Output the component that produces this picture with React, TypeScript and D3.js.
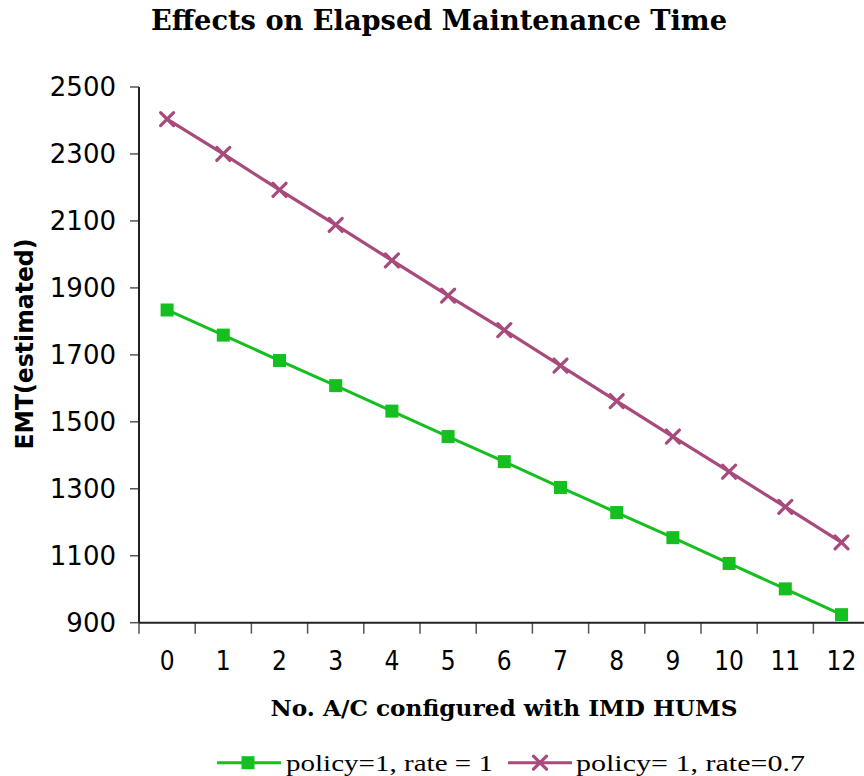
import React from "react";
import * as d3 from "d3";

const categories: number[] = [0, 1, 2, 3, 4, 5, 6, 7, 8, 9, 10, 11, 12];
const rateOne: number[] = [1834, 1759, 1683, 1608, 1532, 1456, 1381, 1304, 1229, 1154, 1077, 1001, 924];
const rateSeven: number[] = [2404, 2300, 2193, 2088, 1982, 1877, 1774, 1668, 1562, 1456, 1351, 1246, 1140];
const yTicks: number[] = [900, 1100, 1300, 1500, 1700, 1900, 2100, 2300, 2500];

const seriesNames = ["policy=1, rate = 1", "policy= 1, rate=0.7"];
const GREEN = "#15BF1F";
const PURPLE = "#A84B7C";

const W = 864;
const H = 776;
const plot = { left: 139, top: 87, bottom: 622.7, right: 869.6 };

export default function App() {
  const x = d3
    .scaleBand<number>()
    .domain(categories)
    .range([plot.left, plot.right])
    .padding(0);
  const y = d3.scaleLinear().domain([900, 2500]).range([plot.bottom, plot.top]);
  const cx = (c: number) => (x(c) as number) + x.bandwidth() / 2;

  const line = d3
    .line<number>()
    .x((_, i) => cx(categories[i]))
    .y((v) => y(v));

  const boundaries = categories.map((c) => x(c) as number);
  const sq = 13;
  const xs = 6.5;

  const xMark = (px: number, py: number, key: string | number, s = xs) => (
    <g key={key} stroke={PURPLE} strokeWidth={3.2} strokeLinecap="round">
      <line x1={px - s} y1={py - s} x2={px + s} y2={py + s} />
      <line x1={px - s} y1={py + s} x2={px + s} y2={py - s} />
    </g>
  );

  return (
    <svg
      width={W}
      height={H}
      style={{ position: "absolute", left: 0, top: 0, background: "#fff" }}
    >
      <rect x={0} y={0} width={W} height={H} fill="#fff" />
      <text
        x={439}
        y={29.5}
        textAnchor="middle"
        fontFamily="'DejaVu Serif', serif"
        fontWeight="bold"
        fontSize={27}
        textLength={576}
        lengthAdjust="spacingAndGlyphs"
        fill="#000"
      >
        Effects on Elapsed Maintenance Time
      </text>

      {/* y axis */}
      {yTicks.map((t) => (
        <g key={t}>
          <line x1={plot.left - 9} x2={plot.left} y1={y(t)} y2={y(t)} stroke="#555" strokeWidth={1.5} />
          <text
            x={116}
            y={y(t)}
            dy="0.36em"
            textAnchor="end"
            fontFamily="'DejaVu Sans', sans-serif"
            fontSize={26}
            fill="#000"
          >
            {t}
          </text>
        </g>
      ))}
      <line x1={plot.left} x2={plot.left} y1={plot.top} y2={plot.bottom} stroke="#222" strokeWidth={2} />

      {/* x axis */}
      {boundaries.map((b, i) => (
        <line key={i} x1={b} x2={b} y1={plot.bottom} y2={plot.bottom + 11} stroke="#555" strokeWidth={1.5} />
      ))}
      <line x1={plot.left} x2={W} y1={plot.bottom} y2={plot.bottom} stroke="#222" strokeWidth={2} />
      {categories.map((c) => (
        <text
          key={c}
          x={cx(c)}
          y={661}
          dy="0.36em"
          textAnchor="middle"
          fontFamily="'DejaVu Sans Condensed', 'DejaVu Sans', sans-serif"
          fontStretch="condensed"
          fontSize={26}
          fill="#000"
        >
          {c}
        </text>
      ))}

      <text
        x={504}
        y={716}
        textAnchor="middle"
        fontFamily="'DejaVu Serif', serif"
        fontWeight="bold"
        fontSize={23}
        textLength={467}
        lengthAdjust="spacingAndGlyphs"
        fill="#000"
      >
        No. A/C configured with IMD HUMS
      </text>
      <text
        transform={`translate(33,344) rotate(-90)`}
        textAnchor="middle"
        fontFamily="'DejaVu Sans', sans-serif"
        fontWeight="bold"
        fontSize={24}
        textLength={211}
        lengthAdjust="spacingAndGlyphs"
        fill="#000"
      >
        EMT(estimated)
      </text>

      {/* series */}
      <path d={line(rateOne) ?? ""} fill="none" stroke={GREEN} strokeWidth={3} />
      {rateOne.map((v, i) => (
        <rect key={i} x={cx(categories[i]) - sq / 2} y={y(v) - sq / 2} width={sq} height={sq} fill={GREEN} />
      ))}
      <path d={line(rateSeven) ?? ""} fill="none" stroke={PURPLE} strokeWidth={3.2} />
      {rateSeven.map((v, i) => xMark(cx(categories[i]), y(v), i))}

      {/* legend */}
      <line x1={217} x2={281} y1={762.7} y2={762.7} stroke={GREEN} strokeWidth={3} />
      <rect x={248 - 6.5} y={762.7 - 6.5} width={13} height={13} fill={GREEN} />
      <text
        x={286}
        y={771}
        fontFamily="'Liberation Serif', serif"
        fontSize={24}
        textLength={207}
        lengthAdjust="spacingAndGlyphs"
        fill="#000"
      >
        {seriesNames[0]}
      </text>
      <line x1={508} x2={572} y1={762.7} y2={762.7} stroke={PURPLE} strokeWidth={3} />
      {xMark(540, 762.7, "leg", 6.5)}
      <text
        x={576}
        y={771}
        fontFamily="'Liberation Serif', serif"
        fontSize={24}
        textLength={229}
        lengthAdjust="spacingAndGlyphs"
        fill="#000"
      >
        {seriesNames[1]}
      </text>
    </svg>
  );
}
